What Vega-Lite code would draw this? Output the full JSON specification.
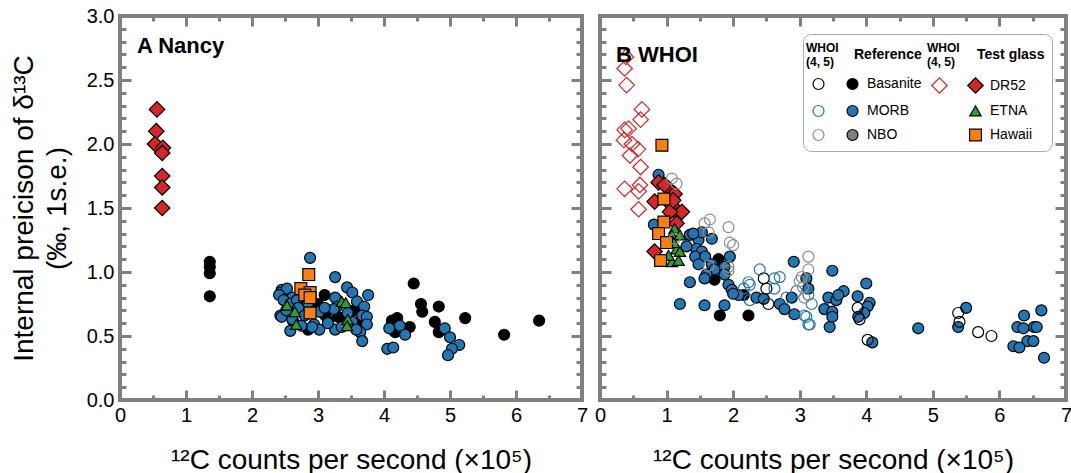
{
  "$schema": "https://vega.github.io/schema/vega-lite/v6.json",
  "padding": {"left": 8, "top": 4, "right": 0, "bottom": 0},
  "bounds": "flush",
  "spacing": 18,
  "config": {
    "font": "Liberation Sans",
    "axis": {"labelFont": "Liberation Sans", "titleFont": "Liberation Sans", "labelFontSize": 20, "titleFontSize": 28, "titleFontWeight": "normal", "labelColor": "#000000", "titleColor": "#000000", "tickColor": "#808080", "tickWidth": 3, "domain": false, "grid": false, "labelFlush": false},
    "view": {"stroke": "#808080", "strokeWidth": 4}
  },
  "resolve": {"scale": {"shape": "independent", "fill": "independent", "stroke": "independent", "size": "independent"}},
  "datasets": {
    "A": [
      {"cps":1.36,"se":1.08,"sample":"Basanite"},{"cps":1.36,"se":1.04,"sample":"Basanite"},{"cps":1.36,"se":0.99,"sample":"Basanite"},{"cps":1.36,"se":0.81,"sample":"Basanite"},
      {"cps":2.45,"se":0.84,"sample":"Basanite"},{"cps":2.5,"se":0.80,"sample":"Basanite"},{"cps":2.62,"se":0.62,"sample":"Basanite"},{"cps":2.85,"se":0.55,"sample":"Basanite"},{"cps":3.1,"se":0.82,"sample":"Basanite"},{"cps":3.11,"se":0.66,"sample":"Basanite"},{"cps":3.15,"se":0.62,"sample":"Basanite"},{"cps":3.3,"se":0.65,"sample":"Basanite"},{"cps":3.4,"se":0.60,"sample":"Basanite"},{"cps":3.55,"se":0.70,"sample":"Basanite"},{"cps":3.65,"se":0.62,"sample":"Basanite"},{"cps":2.55,"se":0.72,"sample":"Basanite"},{"cps":3.0,"se":0.75,"sample":"Basanite"},
      {"cps":4.45,"se":0.91,"sample":"Basanite"},{"cps":4.56,"se":0.75,"sample":"Basanite"},{"cps":4.58,"se":0.69,"sample":"Basanite"},{"cps":4.83,"se":0.73,"sample":"Basanite"},{"cps":4.77,"se":0.61,"sample":"Basanite"},{"cps":4.83,"se":0.53,"sample":"Basanite"},{"cps":5.23,"se":0.64,"sample":"Basanite"},{"cps":5.82,"se":0.51,"sample":"Basanite"},{"cps":6.35,"se":0.62,"sample":"Basanite"},{"cps":4.12,"se":0.62,"sample":"Basanite"},{"cps":4.2,"se":0.64,"sample":"Basanite"},{"cps":4.39,"se":0.57,"sample":"Basanite"},{"cps":4.17,"se":0.53,"sample":"Basanite"},
      {"cps":2.88,"se":1.11,"sample":"MORB"},{"cps":3.26,"se":0.96,"sample":"MORB"},{"cps":2.45,"se":0.86,"sample":"MORB"},{"cps":2.44,"se":0.84,"sample":"MORB"},{"cps":2.53,"se":0.87,"sample":"MORB"},{"cps":2.61,"se":0.80,"sample":"MORB"},{"cps":2.41,"se":0.82,"sample":"MORB"},{"cps":2.48,"se":0.78,"sample":"MORB"},{"cps":2.58,"se":0.75,"sample":"MORB"},{"cps":2.68,"se":0.78,"sample":"MORB"},{"cps":2.43,"se":0.66,"sample":"MORB"},{"cps":2.56,"se":0.67,"sample":"MORB"},{"cps":2.45,"se":0.65,"sample":"MORB"},{"cps":2.61,"se":0.63,"sample":"MORB"},{"cps":3.02,"se":0.69,"sample":"MORB"},{"cps":2.94,"se":0.59,"sample":"MORB"},{"cps":3.02,"se":0.55,"sample":"MORB"},{"cps":2.91,"se":0.57,"sample":"MORB"},{"cps":2.58,"se":0.54,"sample":"MORB"},{"cps":3.26,"se":0.80,"sample":"MORB"},{"cps":3.29,"se":0.73,"sample":"MORB"},{"cps":3.44,"se":0.88,"sample":"MORB"},{"cps":3.52,"se":0.84,"sample":"MORB"},{"cps":3.59,"se":0.77,"sample":"MORB"},{"cps":3.70,"se":0.73,"sample":"MORB"},{"cps":3.76,"se":0.82,"sample":"MORB"},{"cps":3.67,"se":0.66,"sample":"MORB"},{"cps":3.74,"se":0.65,"sample":"MORB"},{"cps":3.74,"se":0.59,"sample":"MORB"},{"cps":3.64,"se":0.53,"sample":"MORB"},{"cps":3.67,"se":0.46,"sample":"MORB"},{"cps":3.26,"se":0.55,"sample":"MORB"},{"cps":3.36,"se":0.57,"sample":"MORB"},{"cps":3.24,"se":0.71,"sample":"MORB"},{"cps":3.52,"se":0.61,"sample":"MORB"},{"cps":2.7,"se":0.72,"sample":"MORB"},{"cps":2.8,"se":0.66,"sample":"MORB"},{"cps":3.1,"se":0.72,"sample":"MORB"},{"cps":2.75,"se":0.58,"sample":"MORB"},{"cps":3.45,"se":0.68,"sample":"MORB"},{"cps":2.52,"se":0.70,"sample":"MORB"},{"cps":3.15,"se":0.60,"sample":"MORB"},{"cps":2.85,"se":0.76,"sample":"MORB"},{"cps":3.58,"se":0.55,"sample":"MORB"},
      {"cps":4.08,"se":0.56,"sample":"MORB"},{"cps":4.24,"se":0.58,"sample":"MORB"},{"cps":4.32,"se":0.51,"sample":"MORB"},{"cps":4.05,"se":0.40,"sample":"MORB"},{"cps":4.14,"se":0.41,"sample":"MORB"},{"cps":4.92,"se":0.56,"sample":"MORB"},{"cps":5.0,"se":0.49,"sample":"MORB"},{"cps":5.14,"se":0.43,"sample":"MORB"},{"cps":5.03,"se":0.40,"sample":"MORB"},{"cps":4.97,"se":0.35,"sample":"MORB"},
      {"cps":0.56,"se":2.27,"sample":"DR52"},{"cps":0.55,"se":2.10,"sample":"DR52"},{"cps":0.53,"se":2.0,"sample":"DR52"},{"cps":0.65,"se":1.97,"sample":"DR52"},{"cps":0.64,"se":1.93,"sample":"DR52"},{"cps":0.64,"se":1.75,"sample":"DR52"},{"cps":0.64,"se":1.66,"sample":"DR52"},{"cps":0.64,"se":1.50,"sample":"DR52"},
      {"cps":2.53,"se":0.74,"sample":"ETNA"},{"cps":2.65,"se":0.69,"sample":"ETNA"},{"cps":2.67,"se":0.59,"sample":"ETNA"},{"cps":3.36,"se":0.77,"sample":"ETNA"},{"cps":3.42,"se":0.76,"sample":"ETNA"},{"cps":3.45,"se":0.63,"sample":"ETNA"},{"cps":3.44,"se":0.58,"sample":"ETNA"},
      {"cps":2.86,"se":0.98,"sample":"Hawaii"},{"cps":2.74,"se":0.87,"sample":"Hawaii"},{"cps":2.88,"se":0.84,"sample":"Hawaii"},{"cps":2.80,"se":0.82,"sample":"Hawaii"},{"cps":2.88,"se":0.80,"sample":"Hawaii"},{"cps":2.88,"se":0.68,"sample":"Hawaii"}
    ],
    "B": [
      {"cps":1.78,"se":1.10,"sample":"Basanite"},{"cps":1.72,"se":0.94,"sample":"Basanite"},{"cps":1.8,"se":0.66,"sample":"Basanite"},{"cps":2.23,"se":0.66,"sample":"Basanite"},{"cps":2.16,"se":0.82,"sample":"Basanite"},
      {"cps":0.88,"se":1.76,"sample":"MORB"},{"cps":0.81,"se":1.37,"sample":"MORB"},{"cps":1.35,"se":1.29,"sample":"MORB"},{"cps":1.48,"se":1.25,"sample":"MORB"},{"cps":1.53,"se":1.31,"sample":"MORB"},{"cps":1.68,"se":1.26,"sample":"MORB"},{"cps":1.45,"se":1.18,"sample":"MORB"},{"cps":1.53,"se":1.16,"sample":"MORB"},{"cps":1.43,"se":1.12,"sample":"MORB"},{"cps":1.58,"se":1.12,"sample":"MORB"},{"cps":1.95,"se":1.12,"sample":"MORB"},{"cps":1.48,"se":1.06,"sample":"MORB"},{"cps":1.68,"se":1.06,"sample":"MORB"},{"cps":1.87,"se":1.04,"sample":"MORB"},{"cps":1.72,"se":1.02,"sample":"MORB"},{"cps":1.6,"se":0.98,"sample":"MORB"},{"cps":1.87,"se":0.98,"sample":"MORB"},{"cps":1.35,"se":0.92,"sample":"MORB"},{"cps":1.57,"se":0.95,"sample":"MORB"},{"cps":1.93,"se":0.90,"sample":"MORB"},{"cps":1.98,"se":0.86,"sample":"MORB"},{"cps":2.08,"se":0.82,"sample":"MORB"},{"cps":2.0,"se":0.83,"sample":"MORB"},{"cps":2.35,"se":0.80,"sample":"MORB"},{"cps":2.46,"se":0.79,"sample":"MORB"},{"cps":2.70,"se":0.75,"sample":"MORB"},{"cps":2.77,"se":0.71,"sample":"MORB"},{"cps":2.91,"se":1.08,"sample":"MORB"},{"cps":2.88,"se":0.80,"sample":"MORB"},{"cps":2.92,"se":0.67,"sample":"MORB"},{"cps":3.1,"se":0.95,"sample":"MORB"},{"cps":1.57,"se":0.74,"sample":"MORB"},{"cps":1.87,"se":0.74,"sample":"MORB"},{"cps":1.2,"se":0.75,"sample":"MORB"},{"cps":1.3,"se":1.2,"sample":"MORB"},{"cps":1.4,"se":1.3,"sample":"MORB"},
      {"cps":3.49,"se":1.01,"sample":"MORB"},{"cps":3.13,"se":0.87,"sample":"MORB"},{"cps":3.43,"se":0.80,"sample":"MORB"},{"cps":3.55,"se":0.78,"sample":"MORB"},{"cps":3.66,"se":0.85,"sample":"MORB"},{"cps":3.58,"se":0.82,"sample":"MORB"},{"cps":4.0,"se":0.91,"sample":"MORB"},{"cps":3.87,"se":0.81,"sample":"MORB"},{"cps":4.05,"se":0.76,"sample":"MORB"},{"cps":4.02,"se":0.73,"sample":"MORB"},{"cps":3.37,"se":0.71,"sample":"MORB"},{"cps":3.49,"se":0.69,"sample":"MORB"},{"cps":3.49,"se":0.65,"sample":"MORB"},{"cps":3.45,"se":0.57,"sample":"MORB"},{"cps":3.97,"se":0.68,"sample":"MORB"},{"cps":3.88,"se":0.65,"sample":"MORB"},{"cps":4.09,"se":0.45,"sample":"MORB"},{"cps":4.78,"se":0.56,"sample":"MORB"},{"cps":5.5,"se":0.72,"sample":"MORB"},{"cps":5.38,"se":0.57,"sample":"MORB"},{"cps":6.37,"se":0.66,"sample":"MORB"},{"cps":6.63,"se":0.70,"sample":"MORB"},{"cps":6.27,"se":0.57,"sample":"MORB"},{"cps":6.36,"se":0.56,"sample":"MORB"},{"cps":6.52,"se":0.57,"sample":"MORB"},{"cps":6.56,"se":0.57,"sample":"MORB"},{"cps":6.42,"se":0.46,"sample":"MORB"},{"cps":6.51,"se":0.46,"sample":"MORB"},{"cps":6.21,"se":0.42,"sample":"MORB"},{"cps":6.30,"se":0.41,"sample":"MORB"},{"cps":6.67,"se":0.33,"sample":"MORB"},
      {"cps":0.88,"se":1.70,"sample":"DR52"},{"cps":1.03,"se":1.65,"sample":"DR52"},{"cps":0.82,"se":1.55,"sample":"DR52"},{"cps":1.08,"se":1.52,"sample":"DR52"},{"cps":1.12,"se":1.61,"sample":"DR52"},{"cps":1.18,"se":1.45,"sample":"DR52"},{"cps":1.23,"se":1.47,"sample":"DR52"},{"cps":1.05,"se":1.47,"sample":"DR52"},{"cps":0.82,"se":1.16,"sample":"DR52"},{"cps":1.15,"se":1.38,"sample":"DR52"},{"cps":0.97,"se":1.68,"sample":"DR52"},{"cps":1.1,"se":1.56,"sample":"DR52"},
      {"cps":1.12,"se":1.34,"sample":"ETNA"},{"cps":1.08,"se":1.29,"sample":"ETNA"},{"cps":1.2,"se":1.29,"sample":"ETNA"},{"cps":1.15,"se":1.18,"sample":"ETNA"},{"cps":1.2,"se":1.16,"sample":"ETNA"},{"cps":1.08,"se":1.08,"sample":"ETNA"},{"cps":1.18,"se":1.09,"sample":"ETNA"},{"cps":1.03,"se":1.13,"sample":"ETNA"},{"cps":1.11,"se":1.23,"sample":"ETNA"},
      {"cps":0.93,"se":1.99,"sample":"Hawaii"},{"cps":0.96,"se":1.57,"sample":"Hawaii"},{"cps":0.96,"se":1.39,"sample":"Hawaii"},{"cps":0.88,"se":1.30,"sample":"Hawaii"},{"cps":1.0,"se":1.23,"sample":"Hawaii"},{"cps":0.91,"se":1.09,"sample":"Hawaii"},
      {"cps":2.46,"se":0.95,"sample":"wBasanite"},{"cps":2.5,"se":0.87,"sample":"wBasanite"},{"cps":2.53,"se":0.75,"sample":"wBasanite"},{"cps":3.87,"se":0.72,"sample":"wBasanite"},{"cps":3.9,"se":0.63,"sample":"wBasanite"},{"cps":4.02,"se":0.47,"sample":"wBasanite"},{"cps":5.38,"se":0.68,"sample":"wBasanite"},{"cps":5.4,"se":0.61,"sample":"wBasanite"},{"cps":5.68,"se":0.53,"sample":"wBasanite"},{"cps":5.88,"se":0.50,"sample":"wBasanite"},
      {"cps":2.4,"se":1.02,"sample":"wMORB"},{"cps":2.23,"se":0.92,"sample":"wMORB"},{"cps":2.25,"se":0.90,"sample":"wMORB"},{"cps":2.62,"se":0.95,"sample":"wMORB"},{"cps":2.7,"se":0.96,"sample":"wMORB"},{"cps":2.16,"se":0.87,"sample":"wMORB"},{"cps":3.07,"se":0.66,"sample":"wMORB"},{"cps":3.13,"se":0.59,"sample":"wMORB"},{"cps":2.25,"se":0.78,"sample":"wMORB"},{"cps":2.62,"se":0.87,"sample":"wMORB"},{"cps":3.18,"se":0.75,"sample":"wMORB"},{"cps":3.1,"se":0.65,"sample":"wMORB"},{"cps":3.15,"se":0.59,"sample":"wMORB"},{"cps":3.13,"se":0.82,"sample":"wMORB"},{"cps":2.95,"se":0.85,"sample":"wMORB"},{"cps":2.8,"se":0.8,"sample":"wMORB"},
      {"cps":1.08,"se":1.73,"sample":"wNBO"},{"cps":1.15,"se":1.69,"sample":"wNBO"},{"cps":1.12,"se":1.26,"sample":"wNBO"},{"cps":1.65,"se":1.41,"sample":"wNBO"},{"cps":1.57,"se":1.38,"sample":"wNBO"},{"cps":1.93,"se":1.35,"sample":"wNBO"},{"cps":1.63,"se":1.31,"sample":"wNBO"},{"cps":1.95,"se":1.23,"sample":"wNBO"},{"cps":2.0,"se":1.21,"sample":"wNBO"},{"cps":1.63,"se":1.05,"sample":"wNBO"},{"cps":1.93,"se":1.04,"sample":"wNBO"},{"cps":1.93,"se":1.01,"sample":"wNBO"},{"cps":3.13,"se":1.12,"sample":"wNBO"},{"cps":3.03,"se":0.96,"sample":"wNBO"},{"cps":3.07,"se":0.80,"sample":"wNBO"},{"cps":3.13,"se":1.02,"sample":"wNBO"},{"cps":3.05,"se":0.88,"sample":"wNBO"},{"cps":3.0,"se":0.93,"sample":"wNBO"},
      {"cps":0.39,"se":2.68,"sample":"wDR52"},{"cps":0.37,"se":2.59,"sample":"wDR52"},{"cps":0.40,"se":2.46,"sample":"wDR52"},{"cps":0.63,"se":2.27,"sample":"wDR52"},{"cps":0.61,"se":2.19,"sample":"wDR52"},{"cps":0.37,"se":2.11,"sample":"wDR52"},{"cps":0.43,"se":2.12,"sample":"wDR52"},{"cps":0.36,"se":2.03,"sample":"wDR52"},{"cps":0.48,"se":2.0,"sample":"wDR52"},{"cps":0.57,"se":1.96,"sample":"wDR52"},{"cps":0.45,"se":1.91,"sample":"wDR52"},{"cps":0.61,"se":1.82,"sample":"wDR52"},{"cps":0.37,"se":1.65,"sample":"wDR52"},{"cps":0.6,"se":1.68,"sample":"wDR52"},{"cps":0.58,"se":1.63,"sample":"wDR52"},{"cps":0.58,"se":1.49,"sample":"wDR52"}
    ]
  },
  "hconcat": [
    {
      "width": 462, "height": 384,
      "data": {"name": "A"},
      "title": {"text": "A Nancy", "anchor": "start", "frame": "group", "offset": -69, "baseline": "alphabetic", "dx": 17, "fontSize": 22, "fontWeight": "bold", "font": "Liberation Sans", "color": "#000000"},
      "resolve": {"axis": {"x": "independent", "y": "independent"}},
      "layer": [
        {
          "mark": {"type": "point", "opacity": 1, "strokeWidth": 1.2},
          "encoding": {
            "x": {"field": "cps", "type": "quantitative", "scale": {"domain": [0, 7], "nice": false, "zero": false}, "axis": {"orient": "bottom", "values": [0,1,2,3,4,5,6,7], "format": "d", "ticks": false, "labelPadding": 5, "title": "¹²C counts per second (×10⁵)", "titlePadding": 21}},
            "y": {"field": "se", "type": "quantitative", "scale": {"domain": [0, 3], "nice": false}, "axis": {"orient": "left", "values": [0,0.5,1,1.5,2,2.5,3], "format": ".1f", "ticks": false, "labelPadding": 6, "title": ["Internal preicison of δ¹³C", "(‰, 1s.e.)"], "titleLineHeight": 33, "titlePadding": 15}},
            "shape": {"field": "sample", "type": "nominal", "legend": null, "scale": {"domain": ["h1","hRef","h2","hTest","wBasanite","Basanite","wDR52","DR52","wMORB","MORB","e1","ETNA","wNBO","NBO","e2","Hawaii"], "range": ["circle","circle","circle","circle","circle","circle","diamond","diamond","circle","circle","circle","triangle-up","circle","circle","circle","square"]}},
            "fill": {"field": "sample", "type": "nominal", "legend": null, "scale": {"domain": ["h1","hRef","h2","hTest","wBasanite","Basanite","wDR52","DR52","wMORB","MORB","e1","ETNA","wNBO","NBO","e2","Hawaii"], "range": ["transparent","transparent","transparent","transparent","transparent","#000000","transparent","#d62728","transparent","#1f77b4","transparent","#2ca02c","transparent","#7f7f7f","transparent","#ff7f0e"]}},
            "stroke": {"field": "sample", "type": "nominal", "legend": null, "scale": {"domain": ["h1","hRef","h2","hTest","wBasanite","Basanite","wDR52","DR52","wMORB","MORB","e1","ETNA","wNBO","NBO","e2","Hawaii"], "range": ["transparent","transparent","transparent","transparent","#000000","#000000","#d62728","#000000","#1f77b4","#000000","transparent","#000000","#8c8c8c","#000000","transparent","#000000"]}},
            "size": {"field": "sample", "type": "nominal", "legend": null, "scale": {"type": "ordinal", "domain": ["h1","hRef","h2","hTest","wBasanite","Basanite","wDR52","DR52","wMORB","MORB","e1","ETNA","wNBO","NBO","e2","Hawaii"], "range": [0.01,0.01,0.01,0.01,120,120,240,240,120,120,0.01,130,120,120,0.01,140]}}
          }
        },
        {
          "mark": {"type": "point", "opacity": 0},
          "encoding": {
            "x": {"field": "cps", "type": "quantitative", "axis": {"orient": "bottom", "values": [0,1,2,3,4,5,6,7], "labels": false, "title": null, "tickSize": -10}},
            "y": {"field": "se", "type": "quantitative", "axis": {"orient": "left", "values": [0,0.5,1,1.5,2,2.5,3], "labels": false, "title": null, "tickSize": -11}}
          }
        },
        {
          "mark": {"type": "point", "opacity": 0},
          "encoding": {
            "x": {"field": "cps", "type": "quantitative", "axis": {"orient": "bottom", "values": [0.5,1.5,2.5,3.5,4.5,5.5,6.5], "labels": false, "title": null, "tickSize": -5}},
            "y": {"field": "se", "type": "quantitative", "axis": {"orient": "left", "values": [0.1,0.2,0.3,0.4,0.6,0.7,0.8,0.9,1.1,1.2,1.3,1.4,1.6,1.7,1.8,1.9,2.1,2.2,2.3,2.4,2.6,2.7,2.8,2.9], "labels": false, "title": null, "tickSize": -6}}
          }
        },
        {
          "mark": {"type": "point", "opacity": 0},
          "encoding": {
            "x": {"field": "cps", "type": "quantitative", "axis": {"orient": "top", "values": [0,1,2,3,4,5,6,7], "labels": false, "title": null, "tickSize": -10}},
            "y": {"field": "se", "type": "quantitative", "axis": {"orient": "right", "values": [0,0.5,1,1.5,2,2.5,3], "labels": false, "title": null, "tickSize": -11}}
          }
        },
        {
          "mark": {"type": "point", "opacity": 0},
          "encoding": {
            "x": {"field": "cps", "type": "quantitative", "axis": {"orient": "top", "values": [0.5,1.5,2.5,3.5,4.5,5.5,6.5], "labels": false, "title": null, "tickSize": -5}},
            "y": {"field": "se", "type": "quantitative", "axis": {"orient": "right", "values": [0.1,0.2,0.3,0.4,0.6,0.7,0.8,0.9,1.1,1.2,1.3,1.4,1.6,1.7,1.8,1.9,2.1,2.2,2.3,2.4,2.6,2.7,2.8,2.9], "labels": false, "title": null, "tickSize": -6}}
          }
        }
      ]
    },
    {
      "width": 466, "height": 384,
      "data": {"name": "B"},
      "title": {"text": "B WHOI", "anchor": "start", "frame": "group", "offset": -69, "baseline": "alphabetic", "dx": 16, "fontSize": 22, "fontWeight": "bold", "font": "Liberation Sans", "color": "#000000"},
      "resolve": {"axis": {"x": "independent", "y": "independent"}},
      "layer": [
        {
          "mark": {"type": "point", "opacity": 1, "strokeWidth": 1.2},
          "encoding": {
            "x": {"field": "cps", "type": "quantitative", "scale": {"domain": [0, 7], "nice": false, "zero": false}, "axis": {"orient": "bottom", "values": [0,1,2,3,4,5,6,7], "format": "d", "ticks": false, "labelPadding": 5, "title": "¹²C counts per second (×10⁵)", "titlePadding": 21}},
            "y": {"field": "se", "type": "quantitative", "scale": {"domain": [0, 3], "nice": false}, "axis": null},
            "shape": {"field": "sample", "type": "nominal", "scale": {"domain": ["h1","hRef","h2","hTest","wBasanite","Basanite","wDR52","DR52","wMORB","MORB","e1","ETNA","wNBO","NBO","e2","Hawaii"], "range": ["circle","circle","circle","circle","circle","circle","diamond","diamond","circle","circle","circle","triangle-up","circle","circle","circle","square"]},
              "legend": {"title": null, "orient": "none", "direction": "horizontal", "legendX": 203, "legendY": 18, "columns": 4, "columnPadding": 5, "rowPadding": 7, "padding": 7, "strokeColor": "#aaaaaa", "fillColor": "#ffffff", "cornerRadius": 8, "symbolStrokeWidth": 1.2, "labelFont": "Liberation Sans", "labelColor": "#000000", "labelLimit": 200,
                "labelFontSize": {"expr": "(datum.value == 'h1' || datum.value == 'h2') ? 12 : 14"},
                "labelOffset": {"expr": "(datum.value == 'h1' || datum.value == 'h2') ? -21 : (datum.value == 'hRef' || datum.value == 'hTest') ? -7 : 6"},
                "labelFontWeight": {"expr": "indexof(['h1','h2','hRef','hTest'], datum.value) >= 0 ? 'bold' : 'normal'"},
                "labelExpr": "datum.label == 'hRef' ? 'Reference' : datum.label == 'hTest' ? 'Test glass' : (datum.label == 'h1' || datum.label == 'h2') ? ['WHOI', '(4, 5)'] : indexof(['wBasanite','wMORB','wNBO','wDR52','e1','e2'], datum.label) >= 0 ? '' : datum.label"
              }},
            "fill": {"field": "sample", "type": "nominal", "scale": {"domain": ["h1","hRef","h2","hTest","wBasanite","Basanite","wDR52","DR52","wMORB","MORB","e1","ETNA","wNBO","NBO","e2","Hawaii"], "range": ["transparent","transparent","transparent","transparent","transparent","#000000","transparent","#d62728","transparent","#1f77b4","transparent","#2ca02c","transparent","#7f7f7f","transparent","#ff7f0e"]},
              "legend": {"title": null, "orient": "none", "direction": "horizontal", "legendX": 203, "legendY": 18, "columns": 4, "columnPadding": 5, "rowPadding": 7, "padding": 7, "strokeColor": "#aaaaaa", "fillColor": "#ffffff", "cornerRadius": 8, "symbolStrokeWidth": 1.2, "labelFont": "Liberation Sans", "labelColor": "#000000", "labelLimit": 200,
                "labelFontSize": {"expr": "(datum.value == 'h1' || datum.value == 'h2') ? 12 : 14"},
                "labelOffset": {"expr": "(datum.value == 'h1' || datum.value == 'h2') ? -21 : (datum.value == 'hRef' || datum.value == 'hTest') ? -7 : 6"},
                "labelFontWeight": {"expr": "indexof(['h1','h2','hRef','hTest'], datum.value) >= 0 ? 'bold' : 'normal'"},
                "labelExpr": "datum.label == 'hRef' ? 'Reference' : datum.label == 'hTest' ? 'Test glass' : (datum.label == 'h1' || datum.label == 'h2') ? ['WHOI', '(4, 5)'] : indexof(['wBasanite','wMORB','wNBO','wDR52','e1','e2'], datum.label) >= 0 ? '' : datum.label"
              }},
            "stroke": {"field": "sample", "type": "nominal", "scale": {"domain": ["h1","hRef","h2","hTest","wBasanite","Basanite","wDR52","DR52","wMORB","MORB","e1","ETNA","wNBO","NBO","e2","Hawaii"], "range": ["transparent","transparent","transparent","transparent","#000000","#000000","#d62728","#000000","#1f77b4","#000000","transparent","#000000","#8c8c8c","#000000","transparent","#000000"]},
              "legend": {"title": null, "orient": "none", "direction": "horizontal", "legendX": 203, "legendY": 18, "columns": 4, "columnPadding": 5, "rowPadding": 7, "padding": 7, "strokeColor": "#aaaaaa", "fillColor": "#ffffff", "cornerRadius": 8, "symbolStrokeWidth": 1.2, "labelFont": "Liberation Sans", "labelColor": "#000000", "labelLimit": 200,
                "labelFontSize": {"expr": "(datum.value == 'h1' || datum.value == 'h2') ? 12 : 14"},
                "labelOffset": {"expr": "(datum.value == 'h1' || datum.value == 'h2') ? -21 : (datum.value == 'hRef' || datum.value == 'hTest') ? -7 : 6"},
                "labelFontWeight": {"expr": "indexof(['h1','h2','hRef','hTest'], datum.value) >= 0 ? 'bold' : 'normal'"},
                "labelExpr": "datum.label == 'hRef' ? 'Reference' : datum.label == 'hTest' ? 'Test glass' : (datum.label == 'h1' || datum.label == 'h2') ? ['WHOI', '(4, 5)'] : indexof(['wBasanite','wMORB','wNBO','wDR52','e1','e2'], datum.label) >= 0 ? '' : datum.label"
              }},
            "size": {"field": "sample", "type": "nominal", "scale": {"type": "ordinal", "domain": ["h1","hRef","h2","hTest","wBasanite","Basanite","wDR52","DR52","wMORB","MORB","e1","ETNA","wNBO","NBO","e2","Hawaii"], "range": [0.01,0.01,0.01,0.01,120,120,240,240,120,120,0.01,130,120,120,0.01,140]},
              "legend": {"title": null, "orient": "none", "direction": "horizontal", "legendX": 203, "legendY": 18, "columns": 4, "columnPadding": 5, "rowPadding": 7, "padding": 7, "strokeColor": "#aaaaaa", "fillColor": "#ffffff", "cornerRadius": 8, "symbolStrokeWidth": 1.2, "labelFont": "Liberation Sans", "labelColor": "#000000", "labelLimit": 200,
                "labelFontSize": {"expr": "(datum.value == 'h1' || datum.value == 'h2') ? 12 : 14"},
                "labelOffset": {"expr": "(datum.value == 'h1' || datum.value == 'h2') ? -21 : (datum.value == 'hRef' || datum.value == 'hTest') ? -7 : 6"},
                "labelFontWeight": {"expr": "indexof(['h1','h2','hRef','hTest'], datum.value) >= 0 ? 'bold' : 'normal'"},
                "labelExpr": "datum.label == 'hRef' ? 'Reference' : datum.label == 'hTest' ? 'Test glass' : (datum.label == 'h1' || datum.label == 'h2') ? ['WHOI', '(4, 5)'] : indexof(['wBasanite','wMORB','wNBO','wDR52','e1','e2'], datum.label) >= 0 ? '' : datum.label"
              }}
          }
        },
        {
          "mark": {"type": "point", "opacity": 0},
          "encoding": {
            "x": {"field": "cps", "type": "quantitative", "axis": {"orient": "bottom", "values": [0,1,2,3,4,5,6,7], "labels": false, "title": null, "tickSize": -10}},
            "y": {"field": "se", "type": "quantitative", "axis": {"orient": "left", "values": [0,0.5,1,1.5,2,2.5,3], "labels": false, "title": null, "tickSize": -11}}
          }
        },
        {
          "mark": {"type": "point", "opacity": 0},
          "encoding": {
            "x": {"field": "cps", "type": "quantitative", "axis": {"orient": "bottom", "values": [0.5,1.5,2.5,3.5,4.5,5.5,6.5], "labels": false, "title": null, "tickSize": -5}},
            "y": {"field": "se", "type": "quantitative", "axis": {"orient": "left", "values": [0.1,0.2,0.3,0.4,0.6,0.7,0.8,0.9,1.1,1.2,1.3,1.4,1.6,1.7,1.8,1.9,2.1,2.2,2.3,2.4,2.6,2.7,2.8,2.9], "labels": false, "title": null, "tickSize": -6}}
          }
        },
        {
          "mark": {"type": "point", "opacity": 0},
          "encoding": {
            "x": {"field": "cps", "type": "quantitative", "axis": {"orient": "top", "values": [0,1,2,3,4,5,6,7], "labels": false, "title": null, "tickSize": -10}},
            "y": {"field": "se", "type": "quantitative", "axis": {"orient": "right", "values": [0,0.5,1,1.5,2,2.5,3], "labels": false, "title": null, "tickSize": -11}}
          }
        },
        {
          "mark": {"type": "point", "opacity": 0},
          "encoding": {
            "x": {"field": "cps", "type": "quantitative", "axis": {"orient": "top", "values": [0.5,1.5,2.5,3.5,4.5,5.5,6.5], "labels": false, "title": null, "tickSize": -5}},
            "y": {"field": "se", "type": "quantitative", "axis": {"orient": "right", "values": [0.1,0.2,0.3,0.4,0.6,0.7,0.8,0.9,1.1,1.2,1.3,1.4,1.6,1.7,1.8,1.9,2.1,2.2,2.3,2.4,2.6,2.7,2.8,2.9], "labels": false, "title": null, "tickSize": -6}}
          }
        }
      ]
    }
  ]
}
